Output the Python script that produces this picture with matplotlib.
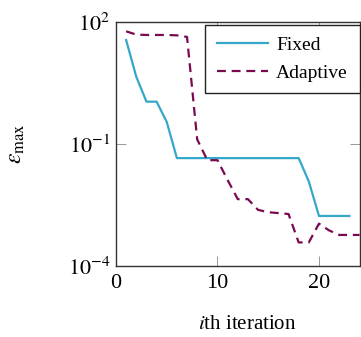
import matplotlib
matplotlib.use("Agg")
import matplotlib.pyplot as plt

# data
iters_fixed = [1, 2, 3, 4, 5, 6, 7, 8, 9, 10, 11, 12, 13, 14, 15, 16, 17, 18, 19, 20, 21, 22, 23]
err_fixed = [36, 4.5, 1.1, 1.1, 0.35, 0.045, 0.045, 0.045, 0.045, 0.045, 0.045, 0.045,
             0.045, 0.045, 0.045, 0.045, 0.045, 0.045, 0.012, 0.0017, 0.0017, 0.0017, 0.0017]

iters_adapt = [1, 2, 3, 4, 5, 6, 7, 8, 9, 10, 11, 12, 13, 14, 15, 16, 17, 18, 19, 20, 21, 22, 23, 24]
err_adapt = [59, 49, 48, 48, 48, 47, 43, 0.13, 0.04, 0.04, 0.013, 0.0044, 0.0044, 0.0024,
             0.0021, 0.0020, 0.0019, 0.00038, 0.00038, 0.0011, 0.00075, 0.00058, 0.00058, 0.00058]

x_ticks = [0, 10, 20]
y_ticks = [1e-4, 1e-1, 1e2]
y_ticklabels = [r'$10^{-4}$', r'$10^{-1}$', r'$10^{2}$']

plt.rcParams['font.family'] = ['Liberation Serif', 'DejaVu Serif']
plt.rcParams['mathtext.fontset'] = 'stix'
plt.rcParams['font.size'] = 14

fig = plt.figure(figsize=(3.61, 3.37), dpi=100)
ax = fig.add_axes([0.3213, 0.2107, 0.996 - 0.3213, 0.9347 - 0.2107])

ax.plot(iters_fixed, err_fixed, color='#35a7c9', lw=1.6, label='Fixed')
ax.plot(iters_adapt, err_adapt, color='#7a0a50', lw=1.6, ls=(0, (4, 2.6)), label='Adaptive')

ax.set_yscale('log')
ax.set_xlim(0, 24)
ax.set_ylim(1e-4, 1e2)
ax.set_xticks(x_ticks)
ax.set_yticks(y_ticks)
ax.set_yticklabels(y_ticklabels)
ax.minorticks_off()
ax.tick_params(direction='in', length=7, width=0.6, color='#888888',
               top=True, right=True, labelsize=16)
ax.tick_params(axis='y', pad=4)
ax.tick_params(axis='x', pad=6)
for s in ax.spines.values():
    s.set_color('#333333')
    s.set_linewidth(1.0)

ax.set_xlabel(r'$i$th iteration', fontsize=15, va='center')
ax.xaxis.set_label_coords(0.54, -0.24)
ax.set_ylabel(r'$\varepsilon_{\mathrm{max}}$', fontsize=17, va='center')
ax.yaxis.set_label_coords(-0.41, 0.5)

leg = ax.legend(loc='upper right', bbox_to_anchor=(1.0, 0.988), fontsize=14,
                handlelength=2.6, handletextpad=0.45, borderpad=0.6,
                labelspacing=0.5, borderaxespad=0.0, fancybox=False)
leg.get_frame().set_edgecolor('#222222')
leg.get_frame().set_linewidth(1.0)
leg.get_frame().set_alpha(1)

fig.savefig('out.png', dpi=100)
